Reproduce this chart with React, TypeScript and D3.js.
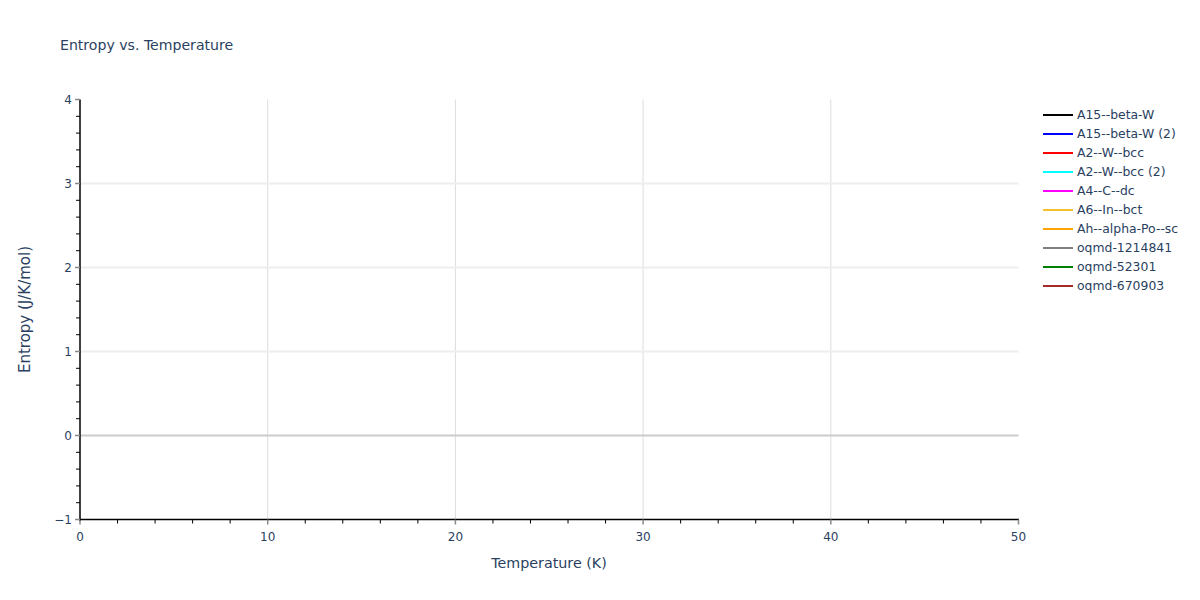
import * as d3 from 'd3'

// series shown in the legend (no points fall inside the visible window)
const seriesNames = [
    'A15--beta-W',
    'A15--beta-W (2)',
    'A2--W--bcc',
    'A2--W--bcc (2)',
    'A4--C--dc',
    'A6--In--bct',
    'Ah--alpha-Po--sc',
    'oqmd-1214841',
    'oqmd-52301',
    'oqmd-670903',
]
const seriesColors = [
    '#000000',
    '#0000ff',
    '#ff0000',
    '#00ffff',
    '#ff00ff',
    '#f2c12e',
    '#ffa500',
    '#808080',
    '#008000',
    '#a52a2a',
]
const seriesValues: [number, number][][] = seriesNames.map(() => [])

const xTicks = [0, 10, 20, 30, 40, 50]
const xMinor = d3.range(0, 51, 2)
const yTicks = [-1, 0, 1, 2, 3, 4]
const yMinor = d3.range(-1, 4.01, 0.2).map(v => +v.toFixed(1))

const W = 1200
const H = 600
const font = 'DejaVu Sans, Verdana, sans-serif'
const textColor = '#2a3f5f'

const App = () => {
    const x = d3.scaleLinear().domain([0, 50]).range([80, 1018.5])
    const y = d3.scaleLinear().domain([-1, 4]).range([519.5, 99.5])
    const line = d3
        .line<[number, number]>()
        .x(d => x(d[0]))
        .y(d => y(d[1]))

    return (
        <svg
            width={W}
            height={H}
            style={{ position: 'absolute', left: 0, top: 0, background: '#fff' }}
            fontFamily={font}
        >
            {/* Title */}
            <text x={60} y={50} fontSize={14.1} fill={textColor}>
                Entropy vs. Temperature
            </text>

            {/* Grid */}
            {xTicks
                .filter(t => t > 0 && t < 50)
                .map(t => (
                    <line key={'gx' + t} x1={x(t)} x2={x(t)} y1={y(4)} y2={y(-1)} stroke="#dddddd" strokeWidth={1} />
                ))}
            {yTicks
                .filter(t => t > 0 && t < 4)
                .map(t => (
                    <line key={'gy' + t} x1={x(0)} x2={x(50)} y1={y(t)} y2={y(t)} stroke="#eeeeee" strokeWidth={2} />
                ))}
            {/* zero line */}
            <line x1={x(0)} x2={x(50)} y1={y(0)} y2={y(0)} stroke="#cccccc" strokeWidth={2} />

            {/* Series */}
            <g clipPath="url(#plotclip)">
                {seriesValues.map((vals, i) => (
                    <path key={seriesNames[i]} d={line(vals) || ''} fill="none" stroke={seriesColors[i]} strokeWidth={2} />
                ))}
            </g>
            <defs>
                <clipPath id="plotclip">
                    <rect x={x(0)} y={y(4)} width={x(50) - x(0)} height={y(-1) - y(4)} />
                </clipPath>
            </defs>

            {/* X axis */}
            <line x1={x(0) - 1} x2={x(50) + 0.5} y1={y(-1)} y2={y(-1)} stroke="#000" strokeWidth={1.5} />
            {xMinor
                .filter(t => t % 10 !== 0)
                .map(t => (
                    <line key={'mx' + t} x1={x(t)} x2={x(t)} y1={y(-1)} y2={y(-1) + 4} stroke="#000" strokeWidth={1} />
                ))}
            {xTicks.map(t => (
                <g key={'tx' + t}>
                    <line x1={x(t)} x2={x(t)} y1={y(-1)} y2={y(-1) + 5} stroke="#888" strokeWidth={1.5} />
                    <text x={x(t)} y={y(-1) + 21} fontSize={12} fill={textColor} textAnchor="middle">
                        {t}
                    </text>
                </g>
            ))}
            <text x={549} y={568} fontSize={14.3} fill={textColor} textAnchor="middle">
                Temperature (K)
            </text>

            {/* Y axis */}
            <line x1={x(0)} x2={x(0)} y1={y(4)} y2={y(-1) + 1} stroke="#000" strokeWidth={1.5} />
            {yMinor
                .filter(t => !Number.isInteger(t))
                .map(t => (
                    <line key={'my' + t} x1={x(0) - 4} x2={x(0)} y1={y(t)} y2={y(t)} stroke="#000" strokeWidth={1} />
                ))}
            {yTicks.map(t => (
                <g key={'ty' + t}>
                    <line x1={x(0) - 5} x2={x(0)} y1={y(t)} y2={y(t)} stroke="#888" strokeWidth={1.5} />
                    <text x={x(0) - 8} y={y(t) + 4} fontSize={12} fill={textColor} textAnchor="end">
                        {t < 0 ? '\u2212' + Math.abs(t) : t}
                    </text>
                </g>
            ))}
            <text
                transform={`translate(30,${(y(4) + y(-1)) / 2}) rotate(-90)`}
                fontSize={15}
                fill={textColor}
                textAnchor="middle"
            >
                Entropy (J/K/mol)
            </text>

            {/* Legend */}
            {seriesNames.map((name, i) => (
                <g key={'lg' + name} transform={`translate(1043,${115 + i * 19})`}>
                    <line x1={0} x2={30} y1={0} y2={0} stroke={seriesColors[i]} strokeWidth={2} />
                    <text x={34} y={4} fontSize={12.4} fill={textColor}>
                        {name}
                    </text>
                </g>
            ))}
        </svg>
    )
}

export default App
